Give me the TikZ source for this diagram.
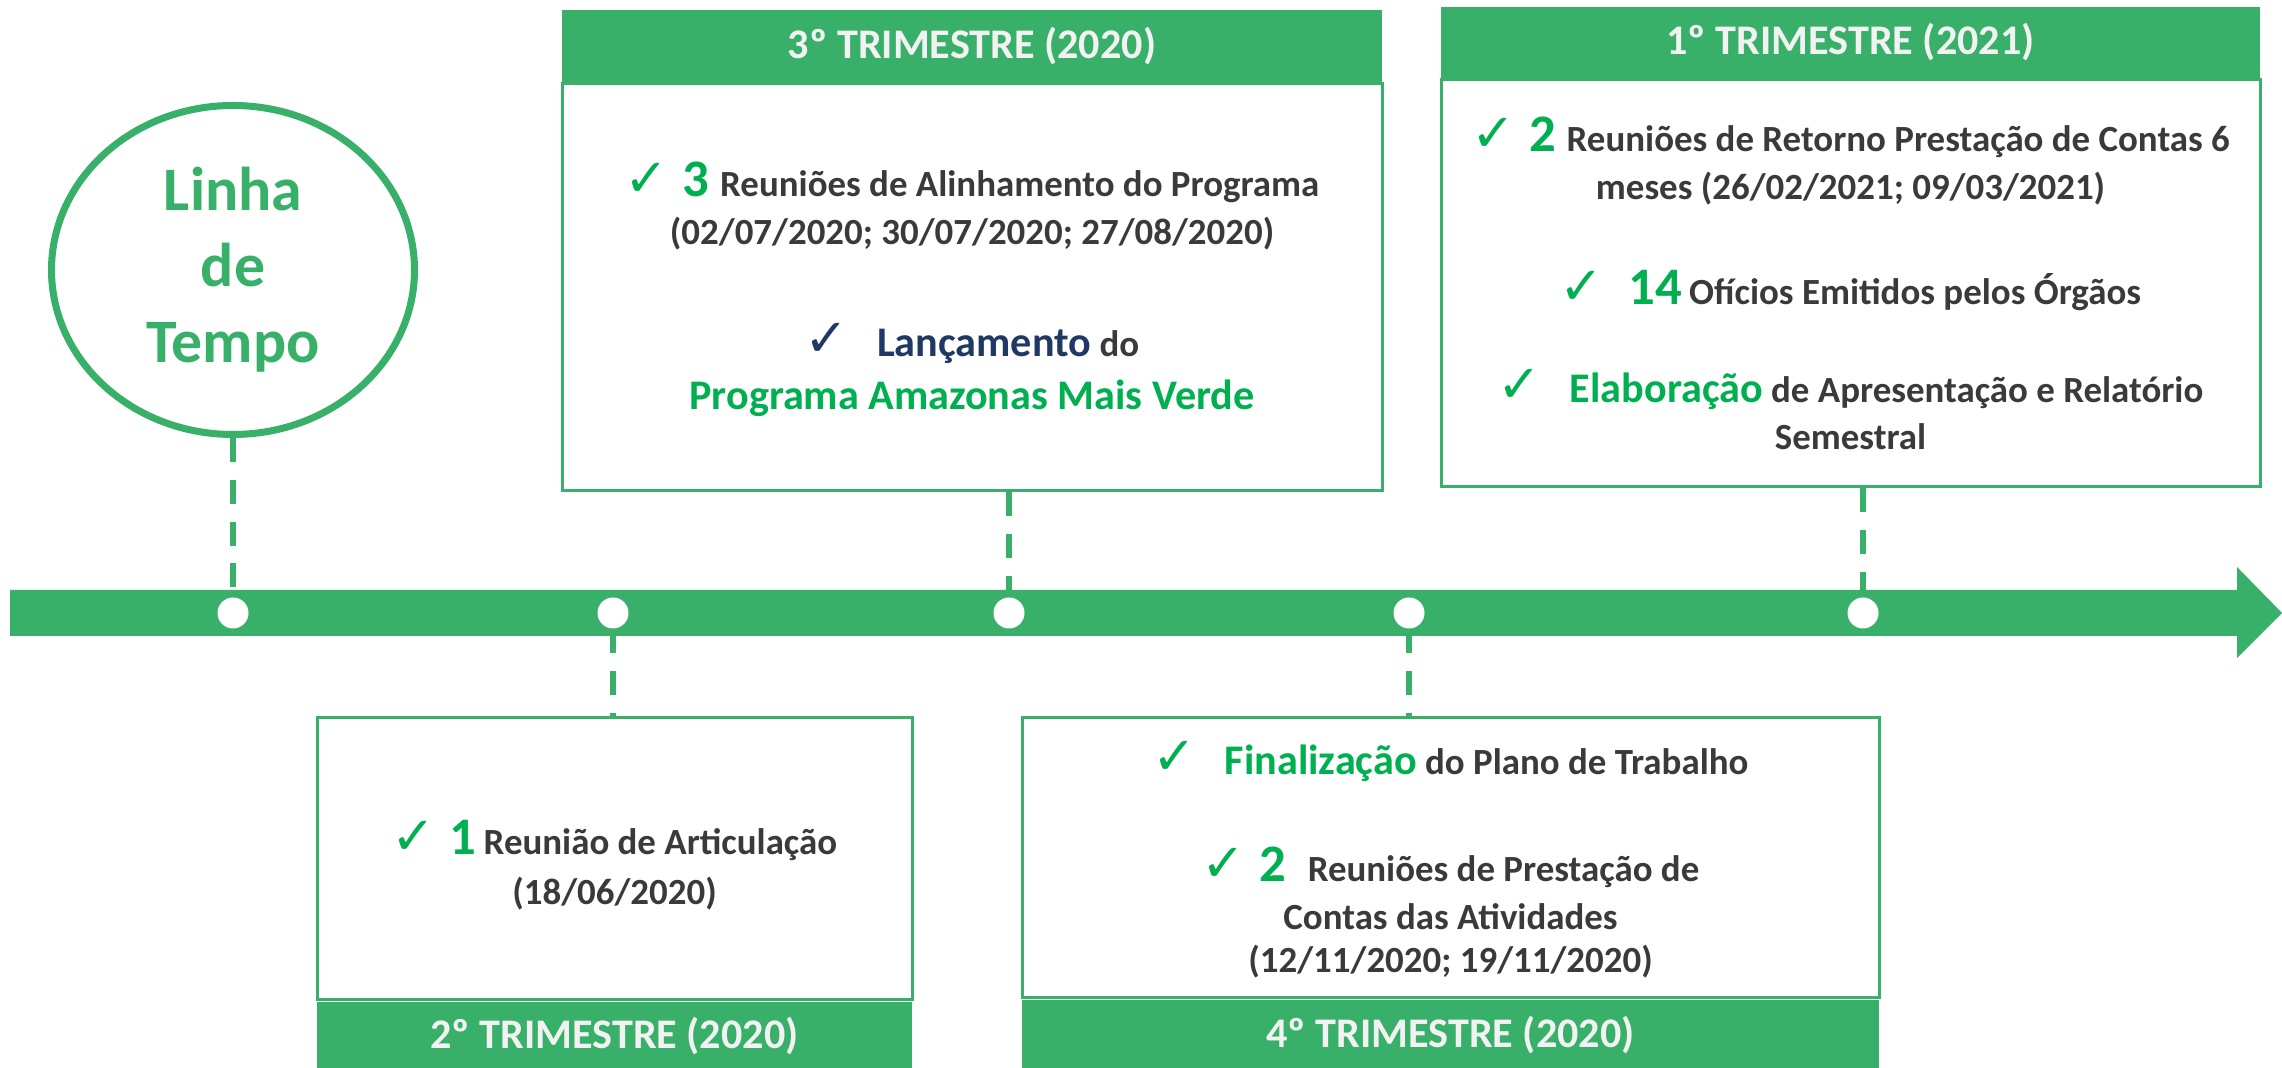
\documentclass[tikz,border=0pt]{standalone}
\usepackage{fontspec}
\setmainfont{Carlito}
\newfontfamily\symfont{DejaVu Sans}
\usetikzlibrary{positioning,shapes.geometric}
\definecolor{tlgreen}{HTML}{38B069}
\definecolor{okgreen}{HTML}{00B050}
\definecolor{txtgray}{HTML}{3A3A3A}
\definecolor{lancblue}{HTML}{1F3864}
\definecolor{headtxt}{HTML}{F2F2F2}
\newcommand{\chk}[1]{{\symfont\fontsize{15}{15}\selectfont\color{#1}✓}}
\newcommand{\bignum}[1]{{\fontsize{15}{15}\selectfont\color{okgreen}#1}}
\newcommand{\hilite}[2]{{\fontsize{12}{12}\selectfont\color{#1}#2}}
\begin{document}
\begin{tikzpicture}[
    x=0.1mm, y=0.1mm,
    bodybox/.style={draw=tlgreen,line width=0.85pt,fill=white,inner sep=0pt},
    headbox/.style={fill=tlgreen,text=headtxt,inner sep=0pt,
        font=\bfseries\fontsize{12}{12}\selectfont},
    dot/.style={circle,fill=white,minimum size=3.1mm,inner sep=0pt},
    link/.style={draw=tlgreen,line width=1.7pt,dash pattern=on 6.8pt off 5.1pt},
    entry/.style={anchor=base,inner sep=0pt,text=txtgray,
        font=\bfseries\fontsize{10.5}{14}\selectfont}]
 \useasboundingbox (0,0) rectangle (2282,1068);
 \fill[tlgreen] (10,432) -- (2237,432) -- (2237,410) -- (2282,455)
    -- (2237,501) -- (2237,478) -- (10,478) -- cycle;
 \foreach \x [count=\i] in {233,613,1009,1409,1863}
    \node[dot] (d\i) at (\x,455) {};
 \node[ellipse,draw=tlgreen,line width=2pt,minimum width=36.3mm,
    minimum height=32.9mm,text=tlgreen,align=center,
    font=\bfseries\fontsize{17.6}{21.6}\selectfont] (tl) at (233,798)
    {Linha\\de\\Tempo};
 \node[bodybox,minimum width=82mm,minimum height=40.7mm] (q3body) at (972,780.5) {};
 \node[headbox,minimum width=82mm,minimum height=7.2mm,above=0pt of q3body]
    (q3head) {3º TRIMESTRE (2020)};
 \node[bodybox,minimum width=81.9mm,minimum height=40.7mm] (q1body) at (1850.5,784.5) {};
 \node[headbox,minimum width=81.9mm,minimum height=7.1mm,above=0pt of q1body]
    (q1head) {1º TRIMESTRE (2021)};
 \node[bodybox,minimum width=59.5mm,minimum height=28.2mm] (q2body) at (614.5,209) {};
 \node[headbox,minimum width=59.5mm,minimum height=6.8mm,below=0pt of q2body]
    (q2head) {2º TRIMESTRE (2020)};
 \node[bodybox,minimum width=85.7mm,minimum height=28mm] (q4body) at (1450.5,210) {};
 \node[headbox,minimum width=85.7mm,minimum height=7mm,below=0pt of q4body]
    (q4head) {4º TRIMESTRE (2020)};
 \draw[link] (tl.south) -- (d1.north);
 \draw[link] (d2.south) -- (d2 |- q2body.north);
 \draw[link] (d3 |- q3body.south) -- (d3.north);
 \draw[link] (d4.south) -- (d4 |- q4body.north);
 \draw[link] (d5 |- q1body.south) -- (d5.north);
 \node[entry] (q3a) at (972,871)
    {\chk{okgreen}\hspace{4pt}\bignum{3}\hspace{3pt}Reuniões de Alinhamento do Programa};
 \node[entry] (q3b) at (972,823) {(02/07/2020; 30/07/2020; 27/08/2020)};
 \node[entry] (q3c) at (972,711)
    {\chk{lancblue}\hspace{8pt}\hilite{lancblue}{Lançamento} do};
 \node[entry] (q3d) at (972,658) {\hilite{okgreen}{Programa Amazonas Mais Verde}};
 \node[entry] (q1a) at (1850.5,916)
    {\chk{okgreen}\hspace{4pt}\bignum{2}\hspace{3pt}Reuniões de Retorno Prestação de Contas 6};
 \node[entry] (q1b) at (1850.5,868) {meses (26/02/2021; 09/03/2021)};
 \node[entry] (q1c) at (1850.5,763)
    {\chk{okgreen}\hspace{7pt}\bignum{14}\hspace{2pt}Ofícios Emitidos pelos Órgãos};
 \node[entry] (q1d) at (1850.5,665)
    {\chk{okgreen}\hspace{8pt}\hilite{okgreen}{Elaboração} de Apresentação e Relatório};
 \node[entry] (q1e) at (1850.5,618) {Semestral};
 \node[entry] (q2a) at (614.5,213)
    {\chk{okgreen}\hspace{4pt}\bignum{1}\hspace{2pt}Reunião de Articulação};
 \node[entry] (q2b) at (614.5,163) {(18/06/2020)};
 \node[entry] (q4a) at (1450.5,293)
    {\chk{okgreen}\hspace{8pt}\hilite{okgreen}{Finalização} do Plano de Trabalho};
 \node[entry] (q4b) at (1450.5,186)
    {\chk{okgreen}\hspace{4pt}\bignum{2}\hspace{6pt}Reuniões de Prestação de};
 \node[entry] (q4c) at (1450.5,138) {Contas das Atividades};
 \node[entry] (q4d) at (1450.5,95) {(12/11/2020; 19/11/2020)};
\end{tikzpicture}
\end{document}
